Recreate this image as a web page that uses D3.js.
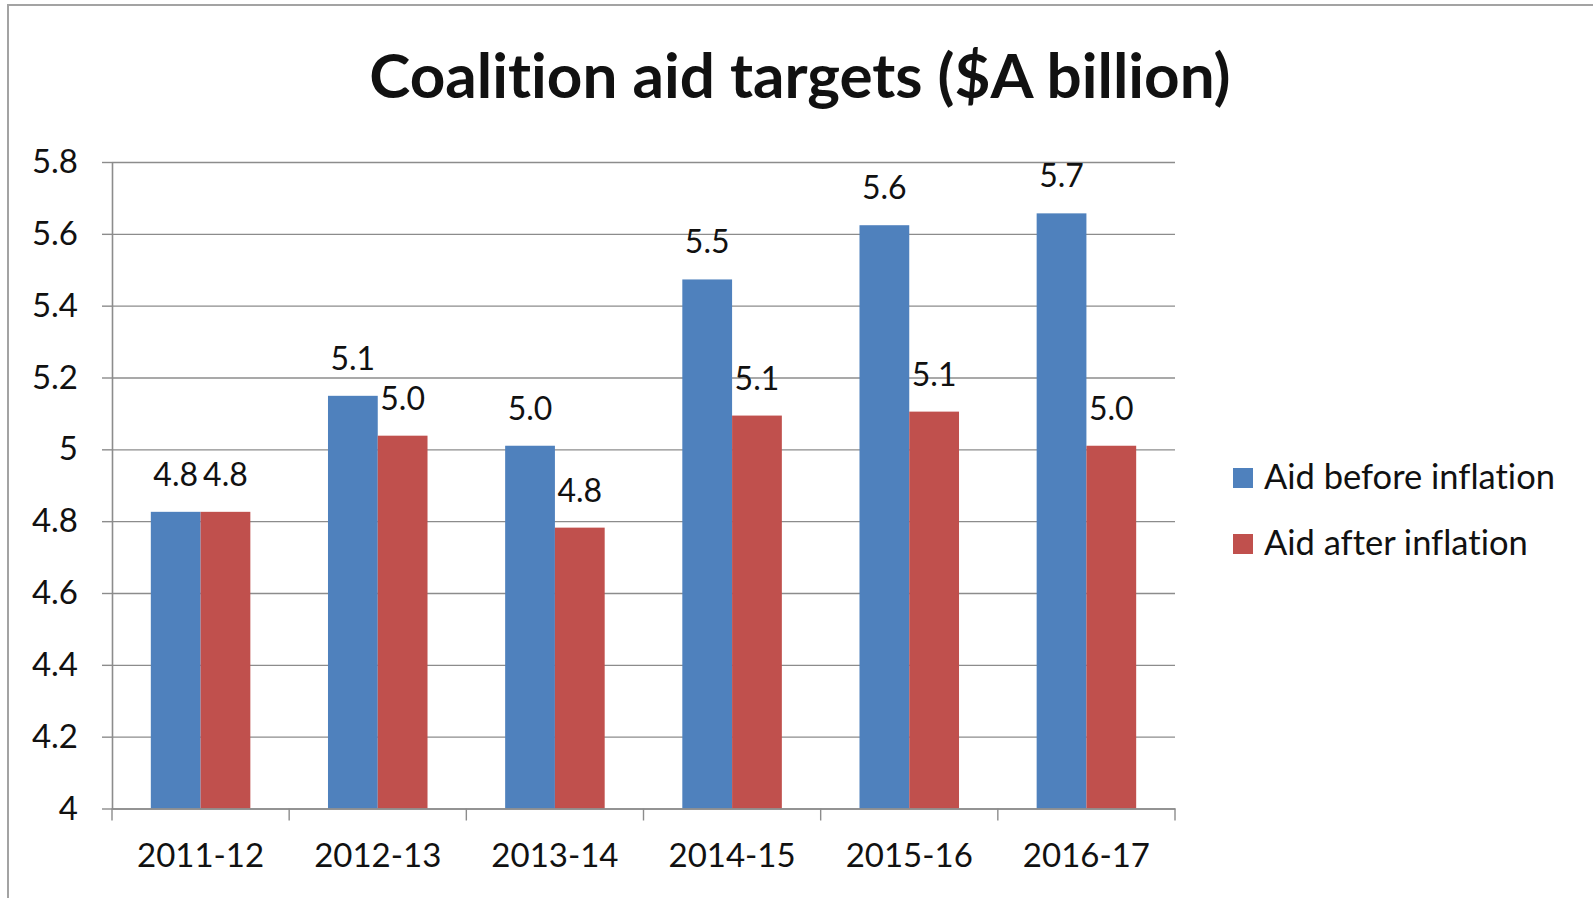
<!DOCTYPE html>
<html>
<head>
<meta charset="utf-8">
<script src="https://cdn.jsdelivr.net/npm/d3@7"></script>
<style>
  html, body { margin: 0; padding: 0; background: #fff; }
  svg { display: block; }
  text { font-family: Lato, "Open Sans", sans-serif; fill: #111; font-variant-ligatures: no-common-ligatures; }
</style>
</head>
<body>
<svg id="chart" width="1593" height="898"></svg>
<script>
// ---- data ----
const categories = ["2011-12", "2012-13", "2013-14", "2014-15", "2015-16", "2016-17"];
const seriesNames = ["Aid before inflation", "Aid after inflation"];
const aidBefore = [4.826, 5.149, 5.010, 5.473, 5.624, 5.657];
const aidAfter  = [4.826, 5.038, 4.782, 5.094, 5.105, 5.010];
const yTickValues = [4, 4.2, 4.4, 4.6, 4.8, 5, 5.2, 5.4, 5.6, 5.8];
const yTickLabels = ["4", "4.2", "4.4", "4.6", "4.8", "5", "5.2", "5.4", "5.6", "5.8"];
const titleText = "Coalition aid targets ($A billion)";
const seriesColors = ["#4f81bd", "#c0504d"];

// ---- layout ----
const svg = d3.select("#chart");
const plot = { left: 112, right: 1175, top: 162, bottom: 808.5 };
const gridColor = "#8c8c8c";
const fontSize = 33;
const fontFamily = 'Lato, "Open Sans", sans-serif';

// chart border
svg.append("rect")
  .attr("x", 8).attr("y", 5)
  .attr("width", 1620).attr("height", 920)
  .attr("fill", "none").attr("stroke", "#a3a3a3").attr("stroke-width", 2);

const y = d3.scaleLinear().domain([4, 5.8]).range([plot.bottom, plot.top]);
const x0 = d3.scaleBand().domain(categories).range([plot.left, plot.right]).padding(0);
const x1 = d3.scaleBand().domain(seriesNames).range([0, x0.bandwidth()])
  .paddingInner(0).paddingOuter(0.78);
const color = d3.scaleOrdinal().domain(seriesNames).range(seriesColors);

// gridlines
svg.append("g")
  .attr("transform", `translate(${plot.left},0)`)
  .call(d3.axisLeft(y).tickValues(yTickValues).tickSize(-(plot.right - plot.left)).tickFormat(""))
  .call(g => g.select(".domain").remove())
  .call(g => g.selectAll("line").attr("stroke", gridColor).attr("stroke-width", 1.4));

// bars
const rows = categories.map((c, i) => ({ cat: c, vals: [aidBefore[i], aidAfter[i]] }));
const groups = svg.append("g").selectAll("g").data(rows).join("g")
  .attr("transform", d => `translate(${x0(d.cat)},0)`);
groups.selectAll("rect")
  .data(d => d.vals.map((v, j) => ({ name: seriesNames[j], v })))
  .join("rect")
  .attr("x", d => x1(d.name))
  .attr("width", x1.bandwidth())
  .attr("y", d => y(d.v))
  .attr("height", d => y(4) - y(d.v))
  .attr("fill", d => color(d.name));

// data labels
groups.selectAll("text.lbl")
  .data(d => d.vals.map((v, j) => ({ name: seriesNames[j], v })))
  .join("text")
  .attr("class", "lbl")
  .attr("x", d => x1(d.name) + x1.bandwidth() / 2)
  .attr("y", d => y(d.v) - 26)
  .attr("text-anchor", "middle")
  .attr("font-size", 32)
  .text(d => d.v.toFixed(1));

// y axis
svg.append("g")
  .attr("transform", `translate(${plot.left},0)`)
  .call(d3.axisLeft(y).tickValues(yTickValues).tickFormat((d, i) => yTickLabels[i])
    .tickSize(10).tickSizeOuter(0).tickPadding(24))
  .call(g => g.select(".domain").attr("stroke", gridColor).attr("stroke-width", 1.6))
  .call(g => g.selectAll("line").attr("stroke", gridColor).attr("stroke-width", 1.4))
  .call(g => g.selectAll("text").attr("font-size", fontSize)
    .attr("font-family", fontFamily).attr("fill", "#111"));

// x axis (labels centred on categories)
svg.append("g")
  .attr("transform", `translate(0,${plot.bottom})`)
  .call(d3.axisBottom(x0).tickSize(0).tickSizeOuter(0).tickPadding(35))
  .call(g => g.select(".domain").attr("stroke", gridColor).attr("stroke-width", 1.6))
  .call(g => g.selectAll("text").attr("font-size", fontSize)
    .attr("font-family", fontFamily).attr("fill", "#111"));

// x boundary ticks
const boundaries = categories.map(c => x0(c)).concat([x0.range()[1]]);
svg.append("g").selectAll("line").data(boundaries).join("line")
  .attr("x1", d => d).attr("x2", d => d)
  .attr("y1", plot.bottom).attr("y2", plot.bottom + 12)
  .attr("stroke", gridColor).attr("stroke-width", 1.4);

// title
svg.append("text")
  .attr("x", 800).attr("y", 98)
  .attr("text-anchor", "middle")
  .attr("font-size", 62).attr("font-weight", 700)
  .attr("fill", "#000")
  .text(titleText);

// legend
const legend = svg.append("g").selectAll("g").data(seriesNames).join("g")
  .attr("transform", (d, i) => `translate(1233,${468 + i * 66})`);
legend.append("rect").attr("width", 20).attr("height", 20).attr("fill", d => color(d));
legend.append("text").attr("x", 31).attr("y", 21)
  .attr("font-size", 34.5).text(d => d);
</script>
</body>
</html>
